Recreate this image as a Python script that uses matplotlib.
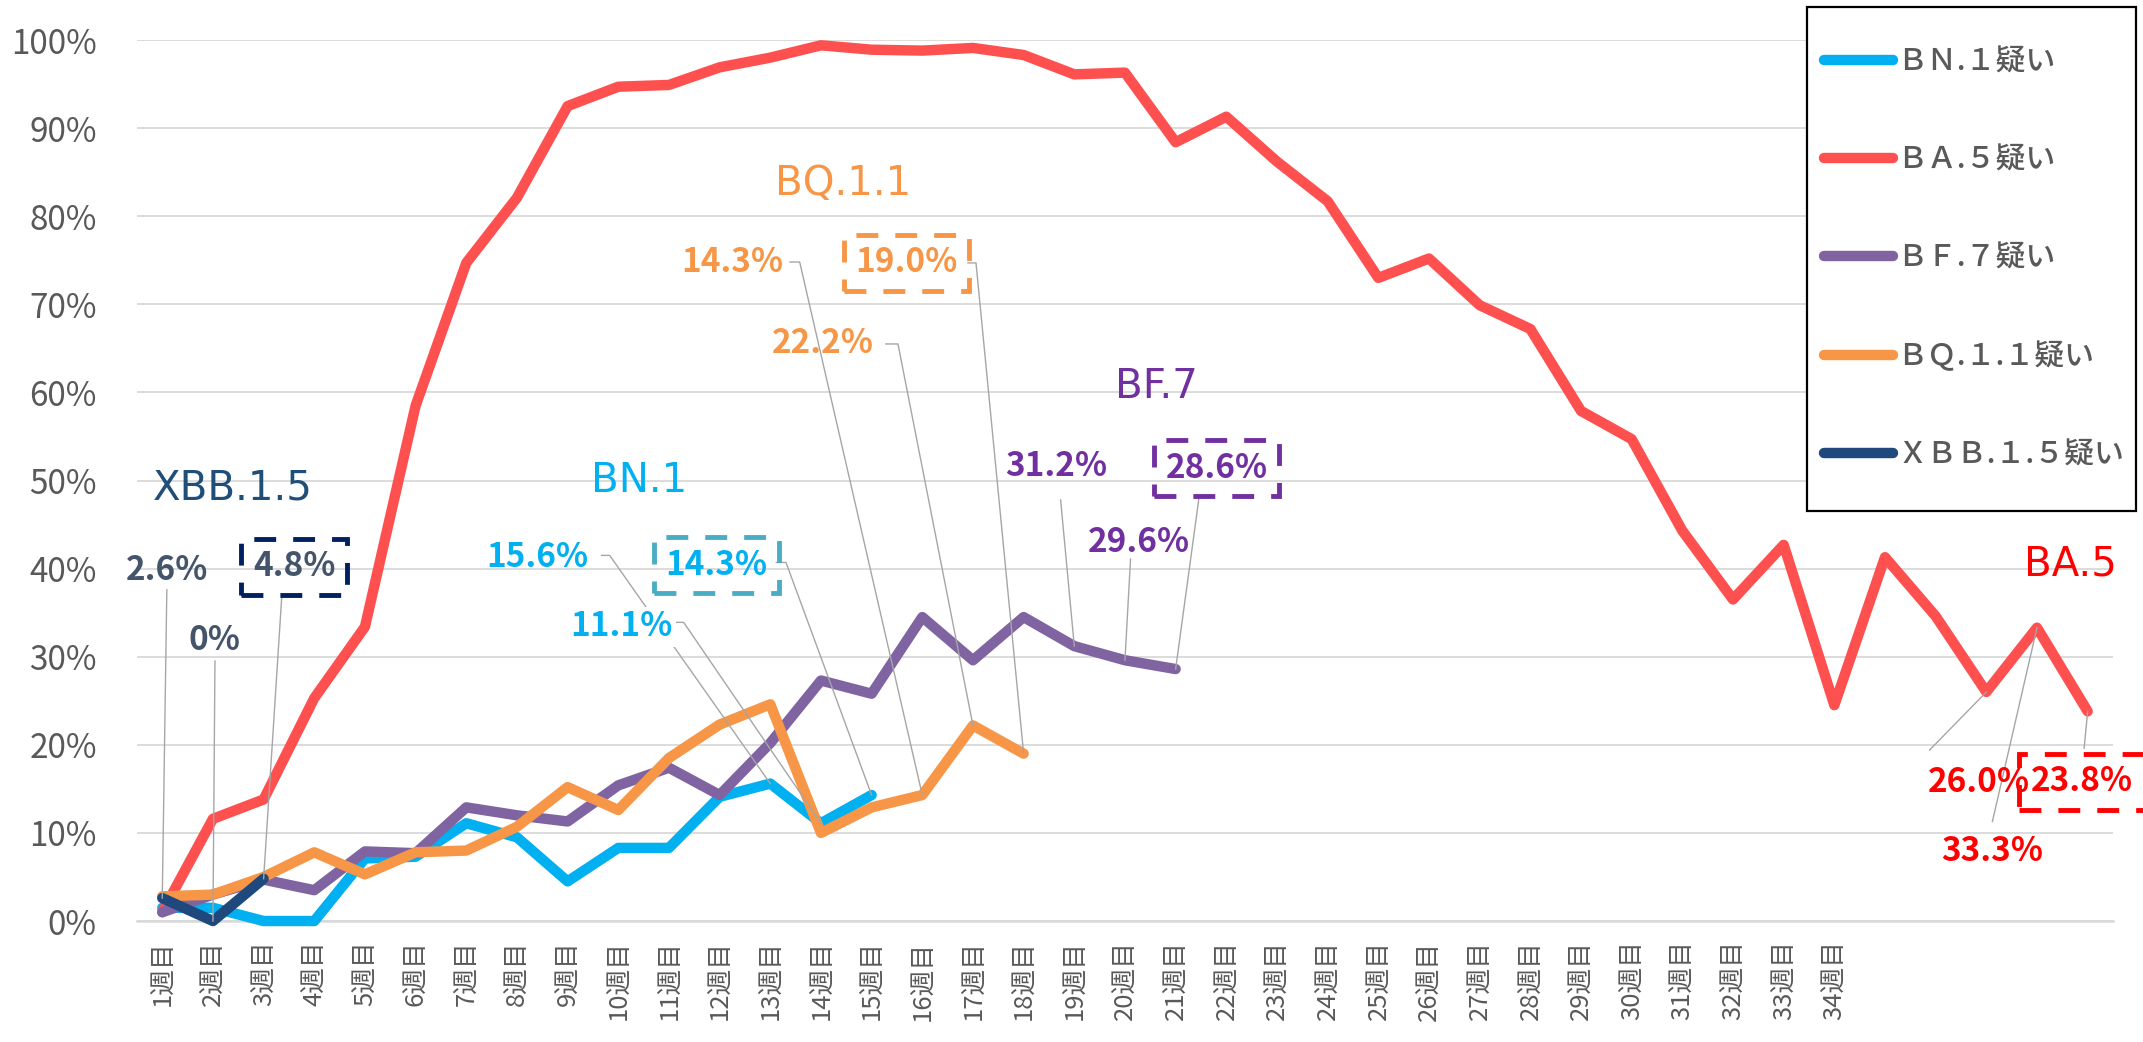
import matplotlib
matplotlib.use('Agg')
import matplotlib.pyplot as plt
from matplotlib.patches import Rectangle

plt.rcParams['font.family'] = ['Noto Sans CJK JP', 'DejaVu Sans']

# week categories (39 slots, labels only to 34)
week_labels = ['%d週目' % i for i in range(1, 35)] + [''] * 5

# share of each lineage (%)
ba5 = [1.0, 11.6, 13.8, 25.3, 33.4, 58.5, 74.7, 82.1, 92.5, 94.7, 94.9, 96.9, 98.0,
       99.4, 98.9, 98.8, 99.1, 98.3, 96.1, 96.3, 88.4, 91.3, 86.2, 81.7, 73.0, 75.2,
       69.9, 67.2, 57.9, 54.7, 44.3, 36.5, 42.7, 24.5, 41.3, 34.6, 26.0, 33.3, 23.8]
bf7 = [1.0, 3.0, 4.7, 3.5, 7.9, 7.7, 12.9, 12.0, 11.3, 15.4, 17.4, 14.3, 20.2,
       27.3, 25.8, 34.5, 29.6, 34.5, 31.2, 29.6, 28.6]
bn1 = [1.5, 1.5, 0.0, 0.0, 7.1, 7.3, 11.1, 9.5, 4.5, 8.3, 8.3, 14.1, 15.6, 11.1, 14.3]
bq11 = [2.8, 3.0, 5.0, 7.8, 5.3, 7.8, 8.0, 10.7, 15.2, 12.6, 18.5, 22.3, 24.6,
        10.0, 12.9, 14.3, 22.2, 19.0]
xbb15 = [2.6, 0.0, 4.8]

series = [
    ('ＢＮ.１疑い', bn1, '#00B0F0'),
    ('ＢＡ.５疑い', ba5, '#FF5050'),
    ('ＢＦ.７疑い', bf7, '#8064A2'),
    ('ＢＱ.１.１疑い', bq11, '#F79646'),
    ('ＸＢＢ.１.５疑い', xbb15, '#1F497D'),
]

# lineage name labels: text, x, y, colour
titles = [
    ('XBB.1.5', 1.39, 49.1, '#1F4E79'),
    ('BN.1', 9.42, 50.0, '#00B0F0'),
    ('BQ.1.1', 13.44, 83.7, '#F79646'),
    ('BF.7', 19.62, 60.6, '#7030A0'),
    ('BA.5', 37.66, 40.5, '#FF0000'),
]

# value callouts: series, week index, label x, label y, leader start(s), colour, box colour
callouts = [
    (xbb15, 0, 0.09, 39.8, [(0.09, 37.6)], '#44546A', None),
    (xbb15, 1, 1.04, 31.8, [(1.04, 29.5)], '#44546A', None),
    (xbb15, 2, 2.60, 40.2, [(2.36, 37.0)], '#44546A', '#002060'),
    (bn1, 12, 7.40, 41.3, [(8.67, 41.5), (8.83, 41.5)], '#00B0F0', None),
    (bn1, 13, 9.07, 33.4, [(10.13, 33.9), (10.29, 33.9)], '#00B0F0', None),
    (bn1, 14, 10.94, 40.4, [(12.12, 40.7), (12.31, 40.7)], '#00B0F0', '#4BACC6'),
    (bq11, 15, 11.26, 74.8, [(12.39, 74.8), (12.58, 74.8)], '#F79646', None),
    (bq11, 16, 13.04, 65.5, [(14.28, 65.5), (14.52, 65.5)], '#F79646', None),
    (bq11, 17, 14.69, 74.7, [(15.90, 74.7), (16.06, 74.7)], '#F79646', '#F79646'),
    (bf7, 18, 17.65, 51.6, [(17.73, 47.8)], '#7030A0', None),
    (bf7, 19, 19.27, 43.0, [(19.11, 41.1)], '#7030A0', None),
    (bf7, 20, 20.81, 51.4, [(20.46, 48.0)], '#7030A0', '#7030A0'),
    (ba5, 36, 35.85, 15.7, [(34.88, 19.4)], '#FF0000', None),
    (ba5, 37, 36.12, 7.9, [(36.12, 11.3)], '#FF0000', None),
    (ba5, 38, 37.88, 15.8, [(37.93, 19.6)], '#FF0000', '#FF0000'),
]

fig = plt.figure(figsize=(21.43, 10.42), dpi=100)
ax = fig.add_axes([0.0639, 0.1161, 0.9221, 0.8455])

handles = []
for name, vals, col in series:
    h, = ax.plot(range(len(vals)), vals, color=col, lw=7.5, label=name,
                 solid_capstyle='round', solid_joinstyle='round', clip_on=False, zorder=3)
    handles.append(h)

ax.set_xlim(-0.5, 38.5)
ax.set_ylim(0, 100)
ax.set_yticks(range(0, 101, 10))
ax.set_yticklabels(['%d%%' % v for v in range(0, 101, 10)])
ax.set_xticks(range(len(week_labels)))
ax.set_xticklabels(week_labels, rotation=90, va='top')
ax.tick_params(axis='y', length=0, pad=29, labelsize=24, labelcolor='#595959')
ax.tick_params(axis='x', length=0, pad=14, labelsize=18.5, labelcolor='#595959')
ax.grid(axis='y', color='#D9D9D9', lw=1.3)
ax.set_axisbelow(True)
for s in ['top', 'right', 'left']:
    ax.spines[s].set_visible(False)
ax.spines['bottom'].set_color('#D9D9D9')
ax.spines['bottom'].set_linewidth(1.8)

for txt, x, y, col in titles:
    ax.text(x, y, txt, color=col, fontsize=29, family='DejaVu Sans',
            ha='center', va='center', zorder=6)

for vals, i, lx, ly, starts, col, boxcol in callouts:
    v = vals[i]
    label = '0%' if v == 0 else '%.1f%%' % v
    pts = starts + [(i, v)]
    ax.plot([p[0] for p in pts], [p[1] for p in pts], color='#A6A6A6', lw=1.0, zorder=4,
            clip_on=False)
    bbox = None
    if boxcol:
        bbox = dict(boxstyle='square,pad=0.35', fc='none', ec=boxcol, lw=3.5,
                    ls=(0, (4.5, 3.5)))
    elif i == 13 and vals is bn1:
        bbox = dict(boxstyle='square,pad=0.1', fc='white', ec='none')
    ax.text(lx, ly, label, color=col, fontsize=24, fontweight='bold',
            ha='center', va='center', bbox=bbox, zorder=6)

# legend frame drawn separately so it sits where the reference puts it
fig.patches.append(Rectangle((1807 / 2143, 1 - 511 / 1042), 329 / 2143, 504 / 1042,
                             transform=fig.transFigure, fc='white', ec='black',
                             lw=1.6, zorder=5))
leg = fig.legend(handles=handles, loc='upper left', bbox_to_anchor=(0.8513, 0.9554),
                 borderaxespad=0, borderpad=0, frameon=False,
                 prop={'size': 21.5, 'weight': 'medium'},
                 labelspacing=2.25, handlelength=2.3, handletextpad=0.15)
leg.set_zorder(6)
for t in leg.get_texts():
    t.set_color('#595959')

fig.savefig('out.png', dpi=100)
